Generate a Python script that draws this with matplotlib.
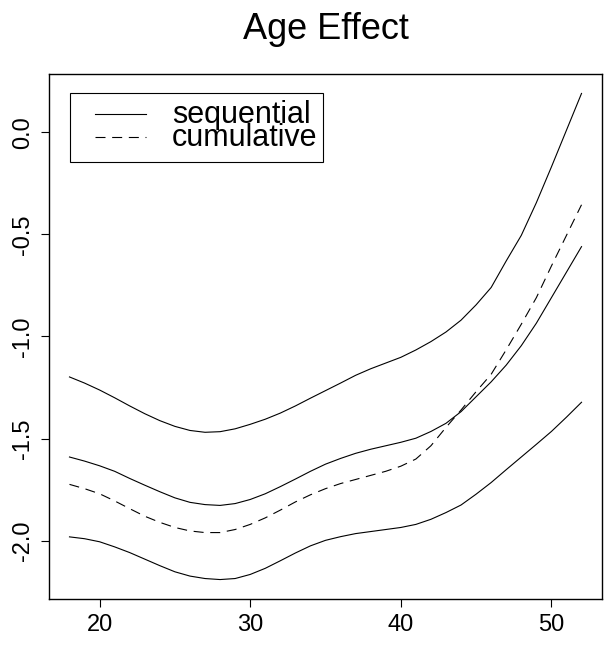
import numpy as np
import matplotlib.pyplot as plt
from matplotlib.patches import Rectangle

# age grid and fitted effect curves
age = list(range(18, 53))
seq_upper = [-1.198, -1.228, -1.262, -1.300, -1.340, -1.378, -1.412, -1.440, -1.460,
             -1.469, -1.466, -1.452, -1.430, -1.405, -1.375, -1.340, -1.302, -1.265,
             -1.228, -1.190, -1.158, -1.130, -1.102, -1.066, -1.025, -0.978, -0.920,
             -0.845, -0.760, -0.630, -0.505, -0.345, -0.170, 0.010, 0.19]
seq_mid = [-1.590, -1.610, -1.633, -1.660, -1.695, -1.728, -1.760, -1.790, -1.812,
           -1.823, -1.827, -1.818, -1.798, -1.770, -1.735, -1.698, -1.660, -1.625,
           -1.597, -1.572, -1.552, -1.535, -1.518, -1.498, -1.465, -1.425, -1.368,
           -1.295, -1.222, -1.140, -1.045, -0.935, -0.810, -0.685, -0.560]
seq_lower = [-1.981, -1.990, -2.005, -2.030, -2.058, -2.090, -2.122, -2.152, -2.173,
             -2.185, -2.190, -2.185, -2.165, -2.135, -2.098, -2.060, -2.025, -1.998,
             -1.980, -1.965, -1.955, -1.945, -1.935, -1.920, -1.895, -1.862, -1.825,
             -1.772, -1.715, -1.652, -1.590, -1.528, -1.465, -1.395, -1.322]
cumulative = [-1.724, -1.745, -1.770, -1.805, -1.843, -1.880, -1.910, -1.935, -1.952,
              -1.960, -1.960, -1.945, -1.920, -1.888, -1.850, -1.810, -1.775, -1.745,
              -1.720, -1.700, -1.680, -1.660, -1.635, -1.600, -1.535, -1.445, -1.360,
              -1.270, -1.185, -1.065, -0.940, -0.810, -0.655, -0.505, -0.355]

plt.rcParams['font.family'] = ['Liberation Sans', 'DejaVu Sans']

fig = plt.figure(figsize=(6.05, 6.53), dpi=100)
ax = fig.add_axes([49 / 605, 54 / 653, 553 / 605, 525 / 653])

lw = 0.8
ax.plot(age, seq_upper, color='black', lw=lw)
ax.plot(age, seq_mid, color='black', lw=lw)
ax.plot(age, seq_lower, color='black', lw=lw)
ax.plot(age, cumulative, color='black', lw=lw, dashes=(9, 6))

# R style 4% axis extension
xmin, xmax = min(age), max(age)
ymin = min(seq_lower + cumulative)
ymax = max(seq_upper + cumulative)
xpad = 0.04 * (xmax - xmin)
ypad = 0.04 * (ymax - ymin)
ax.set_xlim(xmin - xpad, xmax + xpad)
ax.set_ylim(ymin - ypad, ymax + ypad)

ax.set_xticks([20, 30, 40, 50])
ax.set_yticks([0.0, -0.5, -1.0, -1.5, -2.0])
ax.set_yticklabels(['0.0', '-0.5', '-1.0', '-1.5', '-2.0'], rotation=90, va='center')
ax.tick_params(direction='out', length=6, width=0.8, labelsize=17, pad=5)
for s in ax.spines.values():
    s.set_linewidth(1.0)

ax.set_title('Age Effect', fontsize=26, pad=25)

# legend box
ax.add_patch(Rectangle((0.038, 0.8324), 0.4575, 0.1314, transform=ax.transAxes,
                       fill=False, edgecolor='black', lw=0.8))
ax.plot([0.0832, 0.1754], [0.9238, 0.9238], transform=ax.transAxes, color='black', lw=lw)
ax.plot([0.0832, 0.1754], [0.880, 0.880], transform=ax.transAxes, color='black', lw=lw,
        dashes=(9, 6))
ax.text(0.2224, 0.9067, 'sequential', transform=ax.transAxes, fontsize=22, va='baseline')
ax.text(0.2224, 0.8629, 'cumulative', transform=ax.transAxes, fontsize=22, va='baseline')

fig.savefig('out.png', dpi=100)
